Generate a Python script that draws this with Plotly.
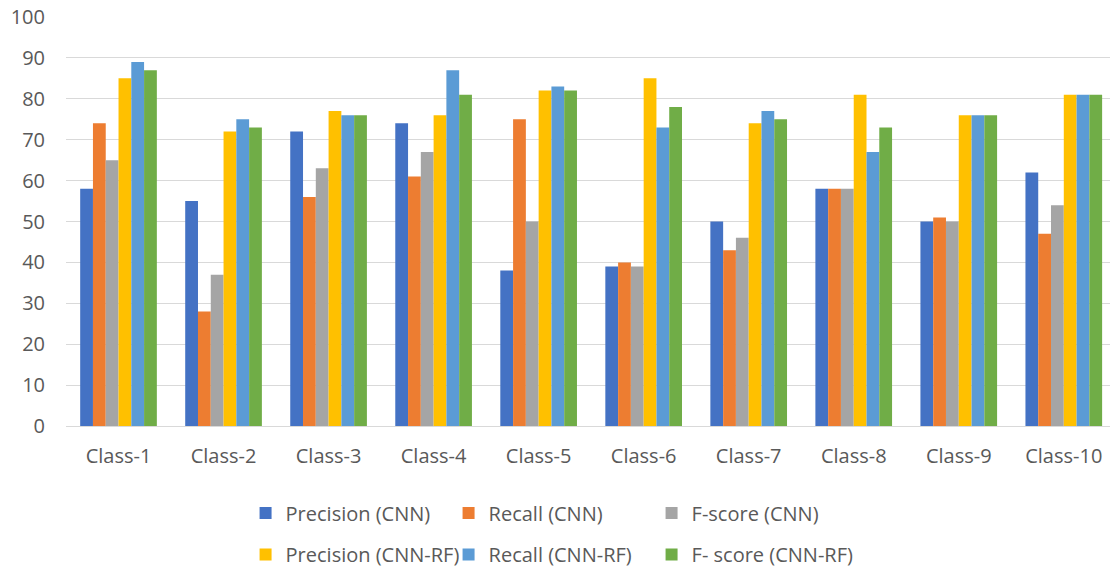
import plotly.graph_objects as go

classes = ["Class-1", "Class-2", "Class-3", "Class-4", "Class-5",
           "Class-6", "Class-7", "Class-8", "Class-9", "Class-10"]

precision_cnn = [58, 55, 72, 74, 38, 39, 50, 58, 50, 62]
recall_cnn = [74, 28, 56, 61, 75, 40, 43, 58, 51, 47]
fscore_cnn = [65, 37, 63, 67, 50, 39, 46, 58, 50, 54]
precision_cnn_rf = [85, 72, 77, 76, 82, 85, 74, 81, 76, 81]
recall_cnn_rf = [89, 75, 76, 87, 83, 73, 77, 67, 76, 81]
fscore_cnn_rf = [87, 73, 76, 81, 82, 78, 75, 73, 76, 81]

series = [
    ("Precision (CNN)", precision_cnn, "#4472C4", "legend"),
    ("Recall (CNN)", recall_cnn, "#ED7D31", "legend"),
    ("F-score (CNN)", fscore_cnn, "#A5A5A5", "legend"),
    ("Precision (CNN-RF)", precision_cnn_rf, "#FFC000", "legend2"),
    ("Recall (CNN-RF)", recall_cnn_rf, "#5B9BD5", "legend2"),
    ("F- score (CNN-RF)", fscore_cnn_rf, "#70AD47", "legend2"),
]

FONT = "Open Sans, sans-serif"
TXT = "#595959"

fig = go.Figure()
for name, vals, color, leg in series:
    fig.add_trace(go.Bar(
        x=classes, y=vals, name=name, legend=leg,
        marker=dict(color=color, line=dict(width=0)),
    ))

legend_common = dict(
    orientation="h", xanchor="left", yanchor="middle",
    font=dict(family=FONT, size=20, color=TXT),
    entrywidth=158, entrywidthmode="pixels",
    bgcolor="rgba(0,0,0,0)", itemclick=False, itemdoubleclick=False,
)

fig.update_layout(
    width=1110, height=574,
    margin=dict(l=66, r=0, t=17, b=147),
    paper_bgcolor="white", plot_bgcolor="white",
    barmode="group", bargap=0.27, bargroupgap=0,
    font=dict(family=FONT, size=20, color=TXT),
    showlegend=True,
    legend=dict(x=0.172, y=-0.21, **legend_common),
    legend2=dict(x=0.172, y=-0.315, **legend_common),
    xaxis=dict(
        range=[-0.5, 9.44], showgrid=False, showline=False, ticks="",
        tickfont=dict(family=FONT, size=20, color=TXT),
        ticklabelstandoff=16,
    ),
    yaxis=dict(
        range=[0, 100], dtick=10, showgrid=True, gridcolor="#D9D9D9",
        gridwidth=1, zeroline=True, zerolinecolor="#D9D9D9", zerolinewidth=1,
        showline=False, ticks="",
        tickfont=dict(family=FONT, size=20, color=TXT),
        ticklabelstandoff=20,
    ),
)

fig.write_html("out.html")
